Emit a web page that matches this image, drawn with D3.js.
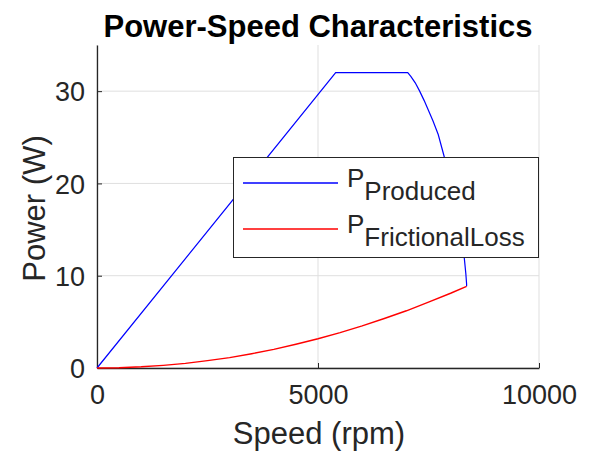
<!DOCTYPE html>
<html><head><meta charset="utf-8">
<script src="https://cdn.jsdelivr.net/npm/d3@7"></script>
<style>body{margin:0;background:#fff}svg{display:block}text{font-family:"Liberation Sans",Arial,sans-serif}</style>
</head><body><svg id="c" width="589" height="455"></svg>
<script>
// Data
const producedSpeed = [0, 5400, 7030, 7100, 7200, 7300, 7400, 7500, 7600, 7720, 7850, 8000, 8150, 8250, 8310, 8345, 8362, 8362];
const producedPower = [0, 32, 32, 31.6, 30.9, 30.0, 29.0, 27.9, 26.8, 25.3, 23.0, 20.0, 16.6, 13.9, 11.9, 10.2, 9.1, 8.85];
const lossSpeed = [0, 500, 1000, 1500, 2000, 2500, 3000, 3500, 4000, 4500, 5000, 5500, 6000, 6500, 7000, 7500, 8000, 8362];
const lossPower = [0, 0.03, 0.13, 0.29, 0.5, 0.8, 1.13, 1.55, 2.02, 2.57, 3.17, 3.84, 4.57, 5.36, 6.2, 7.13, 8.1, 8.85];
const xTicks = [0, 5000, 10000];
const yTicks = [0, 10, 20, 30];
const seriesNames = [["P", "Produced"], ["P", "FrictionalLoss"]];
const seriesColors = ["#0000ff", "#ff0000"];

const svg = d3.select("#c");
const L = 97, R = 539, T = 45, B = 368;
const x = d3.scaleLinear().domain([0, 10000]).range([L, R]);
const y = d3.scaleLinear().domain([0, 35]).range([B, T]);
const axisCol = "#262626";

// grid
svg.append("g").selectAll("line").data(xTicks).join("line")
  .attr("x1", d => x(d)).attr("x2", d => x(d)).attr("y1", T).attr("y2", B)
  .attr("stroke", "#dfdfdf").attr("stroke-width", 1);
svg.append("g").selectAll("line").data(yTicks).join("line")
  .attr("x1", L).attr("x2", R).attr("y1", d => y(d)).attr("y2", d => y(d))
  .attr("stroke", "#dfdfdf").attr("stroke-width", 1);

// axes
const xa = svg.append("g").attr("transform", `translate(0,${B})`)
  .call(d3.axisBottom(x).tickValues(xTicks).tickSizeInner(-5).tickSizeOuter(0).tickPadding(17).tickFormat(d3.format("d")));
const ya = svg.append("g").attr("transform", `translate(${L},0)`)
  .call(d3.axisLeft(y).tickValues(yTicks).tickSizeInner(-5).tickSizeOuter(0).tickPadding(12).tickFormat(d3.format("d")));
[xa, ya].forEach(a => {
  a.select(".domain").attr("stroke", axisCol).attr("stroke-width", 1.3);
  a.selectAll(".tick line").attr("stroke", axisCol).attr("stroke-width", 1);
  a.selectAll(".tick text").attr("fill", "#262626").style("font-size", "27px").style("font-family", "'Liberation Sans',Arial,sans-serif");
});
xa.selectAll(".tick text").attr("dy", "0.71em");
ya.selectAll(".tick text").attr("dy", "0.36em");

// lines
const line = d3.line().x(d => x(d[0])).y(d => y(d[1]));
svg.append("path").datum(producedSpeed.map((s, i) => [s, producedPower[i]]))
  .attr("d", line).attr("fill", "none").style("stroke", seriesColors[0]).attr("stroke-width", 1.2);
svg.append("path").datum(lossSpeed.map((s, i) => [s, lossPower[i]]))
  .attr("d", line).attr("fill", "none").style("stroke", seriesColors[1]).attr("stroke-width", 1.4);

// title & labels
svg.append("text").attr("x", (L + R) / 2).attr("y", 37).attr("text-anchor", "middle")
  .style("font-size", "31px").style("font-weight", "bold").attr("fill", "#000").text("Power-Speed Characteristics");
svg.append("text").attr("x", (L + R) / 2 + 1).attr("y", 444).attr("text-anchor", "middle")
  .style("font-size", "31px").attr("fill", "#262626").text("Speed (rpm)");
svg.append("text").attr("transform", `translate(45,${(T + B) / 2 + 2}) rotate(-90)`).attr("text-anchor", "middle")
  .style("font-size", "31px").attr("fill", "#262626").text("Power (W)");

// legend
const lg = svg.append("g");
lg.append("rect").attr("x", 233.5).attr("y", 157.5).attr("width", 305).attr("height", 100)
  .attr("fill", "#fff").attr("stroke", axisCol).attr("stroke-width", 1);
const rows = [183, 229];
seriesNames.forEach((nm, i) => {
  lg.append("line").attr("x1", 243).attr("x2", 338).attr("y1", rows[i]).attr("y2", rows[i])
    .style("stroke", seriesColors[i]).style("stroke-width", 1.5);
  const t = lg.append("text").attr("x", 347).attr("y", rows[i] + 4).style("font-size", "26px").attr("fill", "#262626");
  t.append("tspan").text(nm[0]);
  t.append("tspan").attr("dy", 13).text(nm[1]);
});
</script></body></html>
